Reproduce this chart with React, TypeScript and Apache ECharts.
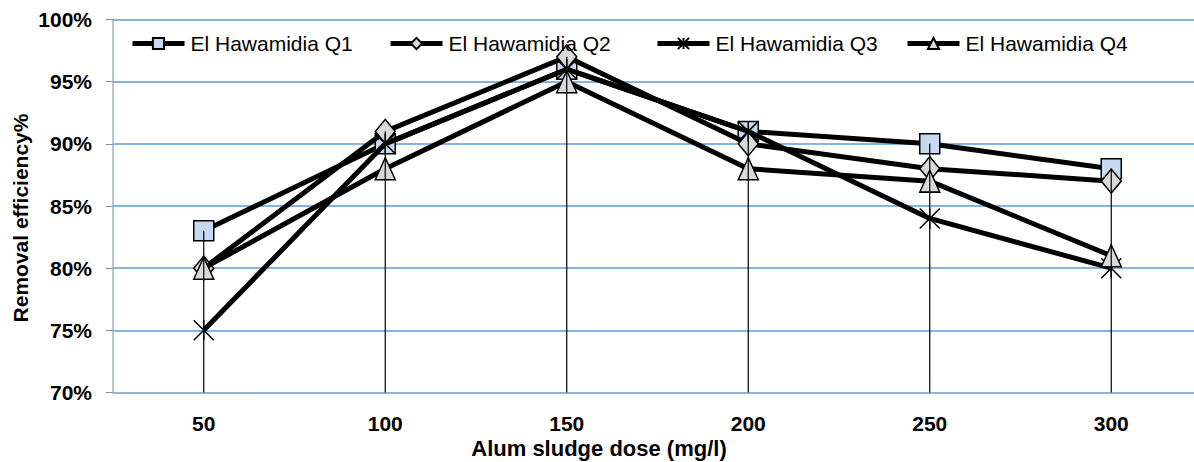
import React, { useEffect, useRef } from "react";
import * as echarts from "echarts";

const categories = ["50", "100", "150", "200", "250", "300"];
const seriesNames = ["El Hawamidia Q1", "El Hawamidia Q2", "El Hawamidia Q3", "El Hawamidia Q4"];
const q1 = [83, 90, 96, 91, 90, 88];
const q2 = [80, 91, 97, 90, 88, 87];
const q3 = [75, 90, 96, 91, 84, 80];
const q4 = [80, 88, 95, 88, 87, 81];
const yTicks = { min: 70, max: 100, interval: 5 };
const xTitle = "Alum sludge dose (mg/l)";
const yTitle = "Removal efficiency%";

const FONT = "'Liberation Sans', Arial, sans-serif";

export default function App() {
  const ref = useRef<HTMLDivElement>(null);
  useEffect(() => {
    document.body.style.margin = "0";
    const chart = echarts.init(ref.current!, null, { renderer: "svg" });
    const all = [q1, q2, q3, q4];
    const dropData = categories.map((_, i) => [i, Math.max(...all.map((s) => s[i]))]);
    const asterisk = "path://M0,0L20,20M20,0L0,20M10,0L10,20";
    const symbols = ["rect", "diamond", asterisk, "triangle"];
    const fills = ["#c6d9f1", "#d9d9d9", "#000000", "#d9d9d9"];
    const sizes = [20, [20, 24], 20, [20, 22]];
    const legendLefts = [130, 388, 655, 905];

    const lineSeries = all.map((d, k) => ({
      name: seriesNames[k],
      type: "line",
      data: d,
      symbol: symbols[k],
      symbolSize: sizes[k],
      lineStyle: { color: "#000", width: 5 },
      itemStyle: { color: fills[k], borderColor: "#000", borderWidth: 1.5 },
      z: 2 + k * 0.1,
    }));

    chart.setOption({
      animation: false,
      backgroundColor: "#fff",
      textStyle: { fontFamily: FONT },
      grid: { left: 113, top: 19.5, width: 1089, height: 373, containLabel: false },
      legend: seriesNames.map((n, k) => ({
        data: [n],
        left: legendLefts[k],
        top: 33,
        padding: 0,
        itemWidth: 52,
        itemHeight: 14,
        itemGap: 0,
        lineStyle: { width: 5, color: "#000" },
        textStyle: { fontSize: 21, color: "#000", fontFamily: FONT, padding: [0, 0, 0, 1] },
      })),
      xAxis: {
        type: "category",
        data: categories,
        boundaryGap: true,
        axisLine: { lineStyle: { color: "#9bb2d1", width: 1.5 } },
        axisTick: { show: false },
        axisLabel: { fontSize: 21, fontWeight: "bold", color: "#000", margin: 20, fontFamily: FONT },
        splitLine: { show: false },
      },
      yAxis: {
        type: "value",
        min: yTicks.min,
        max: yTicks.max,
        interval: yTicks.interval,
        axisLine: { show: true, lineStyle: { color: "#9bb2d1", width: 1.5 } },
        axisTick: { show: true, length: 7, lineStyle: { color: "#8c8c8c" } },
        axisLabel: { fontSize: 21, fontWeight: "bold", color: "#000", margin: 21, formatter: "{value}%", fontFamily: FONT },
        splitLine: { lineStyle: { color: "#5b9bd5", width: 1.5 } },
      },
      series: [
        ...lineSeries,
        {
          type: "custom",
          data: dropData,
          z: 5,
          silent: true,
          renderItem: (params: any, api: any) => {
            const top = api.coord([api.value(0), api.value(1)]);
            const bot = api.coord([api.value(0), yTicks.min]);
            return {
              type: "line",
              shape: { x1: top[0], y1: top[1], x2: bot[0], y2: bot[1] },
              style: { stroke: "#000", lineWidth: 1.2 },
            };
          },
        },
      ],
      graphic: [
        {
          type: "text",
          x: 599,
          y: 448,
          style: { text: xTitle, font: `bold 22px ${FONT}`, fill: "#000", textAlign: "center", textVerticalAlign: "middle" },
        },
        {
          type: "text",
          x: 20,
          y: 218,
          rotation: Math.PI / 2,
          style: { text: yTitle, font: `bold 21px ${FONT}`, fill: "#000", textAlign: "center", textVerticalAlign: "middle" },
        },
      ],
    });
    return () => chart.dispose();
  }, []);
  return (
    <div style={{ width: 1194, height: 462, overflow: "hidden", position: "relative" }}>
      <div ref={ref} style={{ width: 1210, height: 462, position: "absolute", left: 0, top: 0 }} />
    </div>
  );
}
